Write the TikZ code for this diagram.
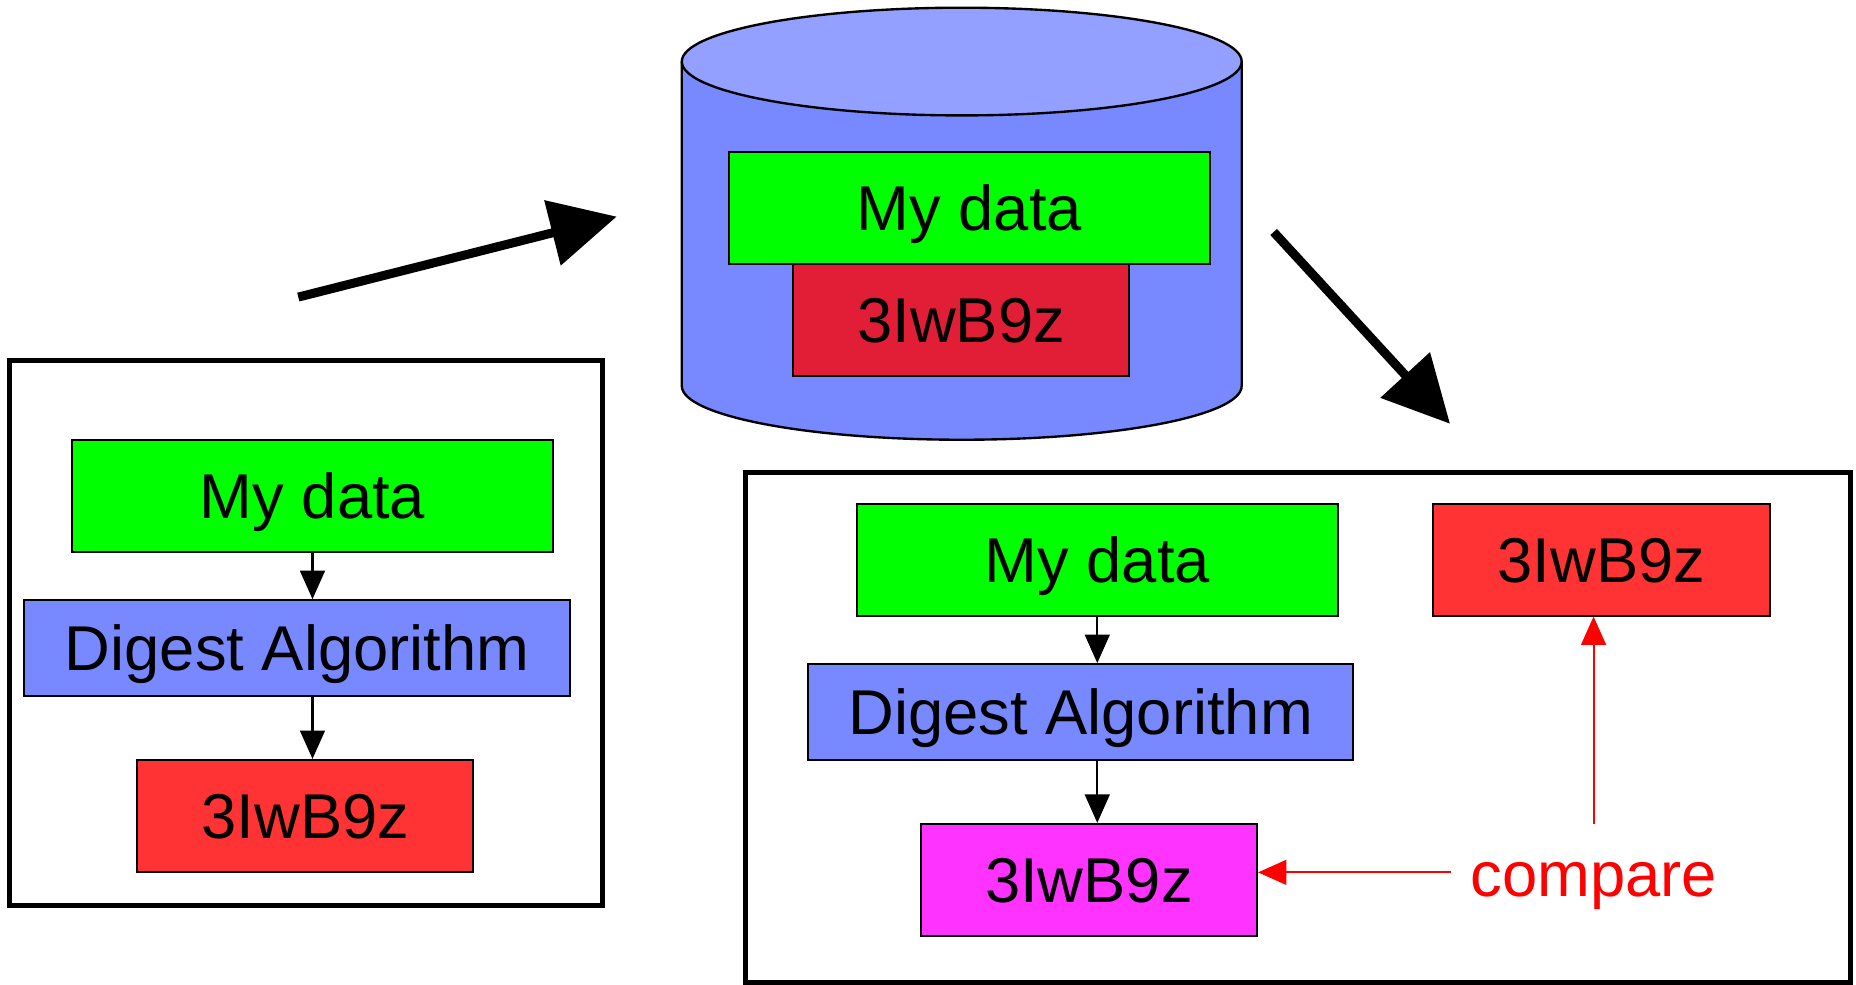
\documentclass[tikz,border=0pt]{standalone}
\usepackage{fontspec}
\setmainfont{Liberation Sans}
\usetikzlibrary{arrows.meta}
\definecolor{green1}{RGB}{0, 255, 0}
\definecolor{blue1}{RGB}{120, 137, 255}
\definecolor{blue2}{RGB}{148, 160, 255}
\definecolor{red1}{RGB}{255, 51, 51}
\definecolor{red2}{RGB}{226, 30, 54}
\definecolor{pink1}{RGB}{255, 51, 255}
\definecolor{red3}{RGB}{255, 0, 0}

\begin{document}
\begin{tikzpicture}[x=1pt, y=-1pt,
  box/.style={draw, line width=1.7pt, inner sep=0pt, font=\fontsize{53.5}{60}\selectfont,
    text height=38.5pt, text depth=0pt},
  databox/.style={box, fill=green1, minimum width=406pt, minimum height=94pt},
  digestbox/.style={box, fill=blue1, minimum width=461pt, minimum height=81pt},
  hashbox/.style={box, minimum width=284pt, minimum height=95pt},
  frame/.style={draw, line width=4.2pt},
  thin arrow/.style={line width=1.7pt, -{Triangle[length=24pt, width=21pt]}},
  fat arrow/.style={line width=7.6pt, -{Triangle[length=56pt, width=55pt]}}]
  \useasboundingbox (0,0) rectangle (1568,832);

  % sender side
  \draw[frame] (8.3,304.8) rectangle (509,765);
  \node[databox] (ldata) at (264,419) {My data};
  \node[digestbox] (ldigest) at (251,547.5) {Digest Algorithm};
  \node[hashbox, fill=red1] (lhash) at (258,689.5) {3IwB9z};

  % stored data
  \fill[blue1] (576,52) -- (576,326) arc[start angle=180, end angle=0, x radius=236.5, y radius=45.5] -- (1049,52) -- cycle;
  \draw[line width=2pt] (576,52) -- (576,326) arc[start angle=180, end angle=0, x radius=236.5, y radius=45.5] -- (1049,52);
  \filldraw[fill=blue2, line width=2pt] (812.5,52) ellipse[x radius=236.5, y radius=45.5];
  \node[hashbox, fill=red2] (chash) at (812,270.5) {3IwB9z};
  \node[databox, minimum height=95pt] (cdata) at (819,175.5) {My data};

  % receiver side
  \draw[frame] (630,399) rectangle (1563,830);
  \node[databox] (rdata) at (927,473) {My data};
  \node[digestbox, minimum width=460pt] (rdigest) at (913,601.5) {Digest Algorithm};
  \node[hashbox, fill=pink1] (rpink) at (920,743.5) {3IwB9z};
  \node[hashbox, fill=red1, minimum height=94pt] (rhash) at (1353,473) {3IwB9z};
  \node[font=\fontsize{53.5}{60}\selectfont, text=red3, anchor=base west, inner xsep=16pt,
    inner ysep=0pt, text height=61pt, text depth=21pt] (compare) at (1226,757) {compare};

  \foreach \x/\from/\to in {ldata/ldata/ldigest, ldata/ldigest/lhash, rdata/rdata/rdigest, rdata/rdigest/rpink}
    \draw[thin arrow] (\x.south |- \from.south) -- (\x.south |- \to.north);
  \draw[thin arrow, red3] (compare.west) -- (compare.west -| rpink.east);
  \draw[thin arrow, red3] (compare.north) -- (compare.north |- rhash.south);

  \coordinate (store from) at (252,251);
  \coordinate (store to) at (521,183);
  \coordinate (fetch from) at (1076,196);
  \coordinate (fetch to) at (1225,358);
  \draw[fat arrow] (store from) -- (store to);
  \draw[fat arrow] (fetch from) -- (fetch to);
\end{tikzpicture}
\end{document}
